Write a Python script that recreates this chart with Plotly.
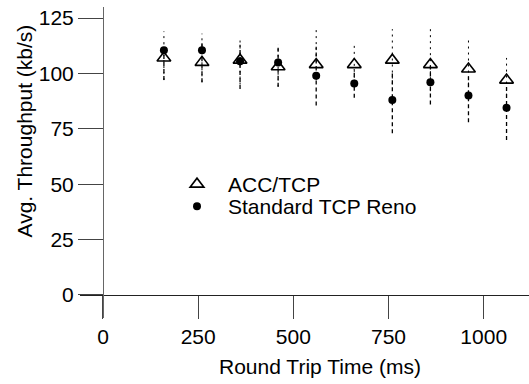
import plotly.graph_objects as go

rtt = [160, 260, 360, 460, 560, 660, 760, 860, 960, 1060]

acc_mean = [107, 105, 106, 103, 104, 104, 106, 104, 102, 97]
acc_lo = [97, 96, 95, 94, 97, 98, 95, 92, 95, 90]
acc_hi = [119, 118, 115, 113, 121, 113, 120, 120, 115, 107]

reno_mean = [110.5, 110.5, 105.5, 105, 99, 95.5, 88, 96, 90, 84.5]
reno_lo = [97, 96, 93, 94, 85.5, 89, 73, 86, 78, 70]
reno_hi = [113, 115, 113, 112, 112, 102, 100, 105, 100, 96]

x_ticks = [0, 250, 500, 750, 1000]
y_ticks = [0, 25, 50, 75, 100, 125]

FONT = "Liberation Sans, Arial, sans-serif"
FS = 21


def seg(xs, lo, hi):
    X, Y = [], []
    for x, a, b in zip(xs, lo, hi):
        X += [x, x, None]
        Y += [a, b, None]
    return X, Y


fig = go.Figure()

ex, ey = seg(rtt, acc_lo, acc_hi)
fig.add_trace(go.Scatter(x=ex, y=ey, mode="lines", showlegend=False,
                         line=dict(color="black", width=1, dash="2px,4px"),
                         hoverinfo="skip"))
ex, ey = seg(rtt, reno_lo, reno_hi)
fig.add_trace(go.Scatter(x=ex, y=ey, mode="lines", showlegend=False,
                         line=dict(color="black", width=1.3, dash="4px,3px"),
                         hoverinfo="skip"))

fig.add_trace(go.Scatter(x=rtt, y=acc_mean, mode="markers", name="ACC/TCP",
                         legend="legend",
                         marker=dict(symbol="triangle-up-open", size=12,
                                     color="black", line=dict(width=1.6, color="black"))))
fig.add_trace(go.Scatter(x=rtt, y=reno_mean, mode="markers", name="Standard TCP Reno",
                         legend="legend2",
                         marker=dict(symbol="circle", size=8, color="black")))

L, R, T, B = 80, 0, 7, 66
W, H = 529, 384
pw = W - L - R
ph = H - T - B

leg_common = dict(xanchor="left", yanchor="top", bgcolor="rgba(0,0,0,0)", borderwidth=0,
                  font=dict(family=FONT, size=FS, color="black"), itemwidth=52)

fig.update_layout(
    width=W, height=H,
    margin=dict(l=L, r=R, t=T, b=B, pad=0),
    paper_bgcolor="white", plot_bgcolor="white",
    font=dict(family=FONT, size=FS, color="black"),
    showlegend=True,
    legend=dict(x=(166 - L) / pw, y=(318 - 164) / ph, **leg_common),
    legend2=dict(x=(166 - L) / pw, y=(318 - 186) / ph, **leg_common),
    xaxis=dict(range=[-60.4, 1119], tickvals=x_ticks, ticktext=[str(v) for v in x_ticks],
               showgrid=False, zeroline=False, showline=True, linecolor="#222", linewidth=1,
               ticks="outside", ticklen=23, tickcolor="#444", tickwidth=1,
               anchor="free", position=(318 - 295) / ph,
               tickfont=dict(family=FONT, size=FS, color="black")),
    yaxis=dict(range=[-10.4, 130], tickvals=y_ticks, ticktext=[str(v) for v in y_ticks],
               showgrid=False, zeroline=False, showline=True, linecolor="#666", linewidth=1,
               ticks="outside", ticklen=25, tickcolor="#444", tickwidth=1,
               anchor="free", position=(103 - L) / pw,
               tickfont=dict(family=FONT, size=FS, color="black")),
    annotations=[
        dict(text="Round Trip Time (ms)", xref="paper", yref="paper",
             x=(320 - L) / pw, y=(318 - 366) / ph, xanchor="center", yanchor="middle",
             showarrow=False, font=dict(family=FONT, size=FS, color="black")),
        dict(text="Avg. Throughput (kb/s)", xref="paper", yref="paper",
             x=(24 - L) / pw, y=(318 - 131.5) / ph, xanchor="center", yanchor="middle",
             textangle=-90, showarrow=False, font=dict(family=FONT, size=FS, color="black")),
    ],
)

fig.write_html("out.html")
